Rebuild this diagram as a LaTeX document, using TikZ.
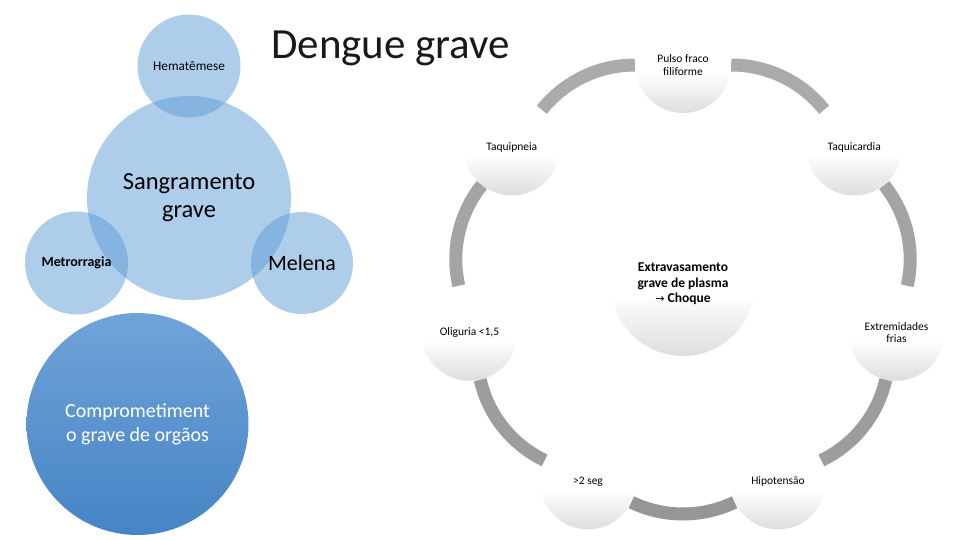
\documentclass[tikz,border=0pt]{standalone}
\usepackage{fontspec}
\setmainfont{Carlito}
\newfontfamily\arrowfont{DejaVu Sans}
\definecolor{blueb}{HTML}{5B9BD5}
\definecolor{comptop}{HTML}{70A3D8}
\definecolor{compbot}{HTML}{4684C6}
\definecolor{arcA}{HTML}{ABABAB}
\definecolor{arcB}{HTML}{A4A4A4}
\definecolor{arcC}{HTML}{9D9D9D}
\definecolor{arcD}{HTML}{969696}
\definecolor{shadeg}{HTML}{DDDDDD}
\pgfdeclareverticalshading{ballshade}{100bp}{color(0bp)=(shadeg); color(25bp)=(shadeg); color(46bp)=(white); color(100bp)=(white)}
\tikzset{
  bluec/.style={circle, fill=blueb, fill opacity=0.5, text opacity=1, inner sep=0pt, align=center},
  cyc/.style={circle, shading=ballshade, inner sep=0pt, minimum size=96pt, align=center,
    font=\fontsize{11.5}{12.5}\selectfont},
  ringarc/.style={line width=13pt, bend left=25.7, looseness=0.9}
}
\begin{document}
\begin{tikzpicture}[x=1pt,y=1pt]
\useasboundingbox (0,0) rectangle (960,-540);
% left group
\node[bluec, minimum size=204pt, font=\fontsize{24.5}{28}\selectfont] (sang) at (189,-198) {Sangramento\\grave};
\node[bluec, minimum size=103pt, font=\fontsize{13.3}{14}\selectfont] (hema) at (189,-66) {Hematêmese};
\node[bluec, minimum size=103pt, font=\fontsize{14}{15}\selectfont\bfseries] (metro) at (76.5,-263) {Metrorragia};
\node[bluec, minimum size=102pt, font=\fontsize{22}{24}\selectfont] (melena) at (302,-263) {Melena};
\node[circle, inner sep=0pt, minimum size=222pt, top color=comptop, bottom color=compbot, text=white, align=center,
  font=\fontsize{20}{24}\selectfont] (compr) at (137.5,-424) {Comprometiment\\o grave de orgãos};
% title
\node[anchor=base west, inner sep=0pt, font=\fontsize{43}{50}\selectfont, text=black!90] (title) at (271,-59) {Dengue grave};
% cycle
\begin{scope}[shift={(683,-284)}]
\node[circle, shading=ballshade, inner sep=0pt, minimum size=144pt, align=center,
  font=\fontsize{13.5}{15.5}\selectfont\bfseries] (extra) at (0,0) {Extravasamento\\grave de plasma\\{\arrowfont\mdseries\fontsize{11}{15.5}\selectfont →} Choque};
\node[cyc] (pulso) at (90:219) {Pulso fraco\\filiforme};
\node[cyc] (taqc) at (38.57:219) {Taquicardia};
\node[cyc] (extr) at (-12.86:219) {Extremidades\\frias};
\node[cyc] (hipo) at (-64.29:219) {Hipotensão};
\node[cyc] (seg) at (-115.71:219) {>2 seg};
\node[cyc] (olig) at (-167.14:219) {Oliguria <1,5};
\node[cyc] (taqp) at (141.43:219) {Taquipneia};
\end{scope}
\draw[ringarc, arcA] (pulso) to (taqc);
\draw[ringarc, arcB] (taqc) to (extr);
\draw[ringarc, arcC] (extr) to (hipo);
\draw[ringarc, arcD] (hipo) to (seg);
\draw[ringarc, arcC] (seg) to (olig);
\draw[ringarc, arcB] (olig) to (taqp);
\draw[ringarc, arcA] (taqp) to (pulso);
\end{tikzpicture}
\end{document}
